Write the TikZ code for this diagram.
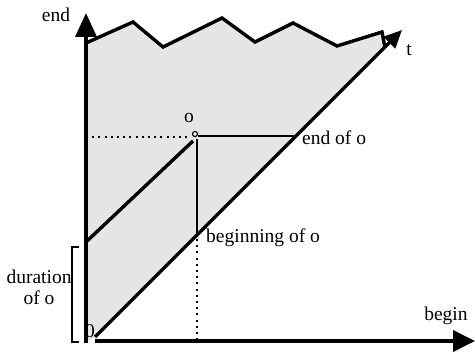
\documentclass[tikz,border=0pt]{standalone}
\usepackage{fontspec}
\setmainfont{Liberation Serif}
\usetikzlibrary{arrows.meta}
\begin{document}
\begin{tikzpicture}[x=1pt,y=-1pt,
  lbl/.style={inner sep=0pt,font=\fontsize{19.5}{21}\selectfont},
  axis/.style={line width=3.8pt},
  thickline/.style={line width=3.4pt},
  thinline/.style={line width=2.2pt},
  dotline/.style={line width=2.2pt,dash pattern=on 2pt off 4.2pt},
  shade/.style={fill=black!10}]
\useasboundingbox (0,0) rectangle (475,352);
% named points
\coordinate (axtop) at (86,13);
\coordinate (axbot) at (86,343);
\coordinate (hstart) at (95,341);
\coordinate (hend) at (475,341);
\coordinate (zero) at (95,337);
\coordinate (ttip) at (402,30);
\coordinate (j0) at (86,43);
\coordinate (j1) at (133,22);
\coordinate (j2) at (163,47);
\coordinate (j3) at (222,18);
\coordinate (j4) at (255,42);
\coordinate (j5) at (293,23);
\coordinate (j6) at (337,46);
\coordinate (j7) at (382,32);
\coordinate (j8) at (385,48);
\coordinate (o) at (195,134);
\coordinate (od) at (193,141);
\coordinate (oh) at (198,136);
\coordinate (ov) at (197,139);
\coordinate (eo) at (294,136);
\coordinate (bo) at (197,234);
\coordinate (bd) at (197,239);
\coordinate (dl) at (86,242);
\coordinate (hl) at (86,137);
\coordinate (hr) at (191,137);
\coordinate (bb) at (197,339);
\coordinate (br1) at (79,247);
\coordinate (br2) at (72,247);
\coordinate (br3) at (72,342);
\coordinate (br4) at (79,342);
% shaded region
\fill[shade] (j0) -- (j1) -- (j2) -- (j3) -- (j4) -- (j5) -- (j6) -- (j7) -- (j8) -- (zero) -- (axbot) -- cycle;
% dotted lines
\draw[dotline] (hl) -- (hr);
\draw[dotline] (bd) -- (bb);
% jagged top
\draw[thickline,line join=miter] (j0) -- (j1) -- (j2) -- (j3) -- (j4) -- (j5) -- (j6) -- (j7) -- (j8);
% t line
\draw[thickline,-{Triangle[length=18pt,width=16pt]}] (zero) -- (ttip);
% o lines
\draw[thickline] (od) -- (dl);
\draw[thinline] (oh) -- (eo);
\draw[thinline] (ov) -- (bo);
\draw[line width=1.2pt,fill=white] (o) circle (2.5pt);
% axes
\draw[axis,-{Triangle[length=24pt,width=21pt]}] (axbot) -- (axtop);
\draw[axis,-{Triangle[length=22pt,width=21pt]}] (hstart) -- (hend);
% bracket
\draw[line width=1.6pt] (br1) -- (br2) -- (br3) -- (br4);
% labels
\node[lbl] (lend) at (56,15) {end};
\node[lbl] (lt) at (409,50) {t};
\node[lbl] (lo) at (189,118) {o};
\node[lbl,anchor=west] (leo) at (302,138) {end of o};
\node[lbl,anchor=west] (lbo) at (206,238) {beginning of o};
\node[lbl,align=center] (ldur) at (39,287) {duration\\of o};
\node[lbl] (lzero) at (90,331) {0};
\node[lbl] (lbegin) at (446,316) {begin};
\end{tikzpicture}
\end{document}
